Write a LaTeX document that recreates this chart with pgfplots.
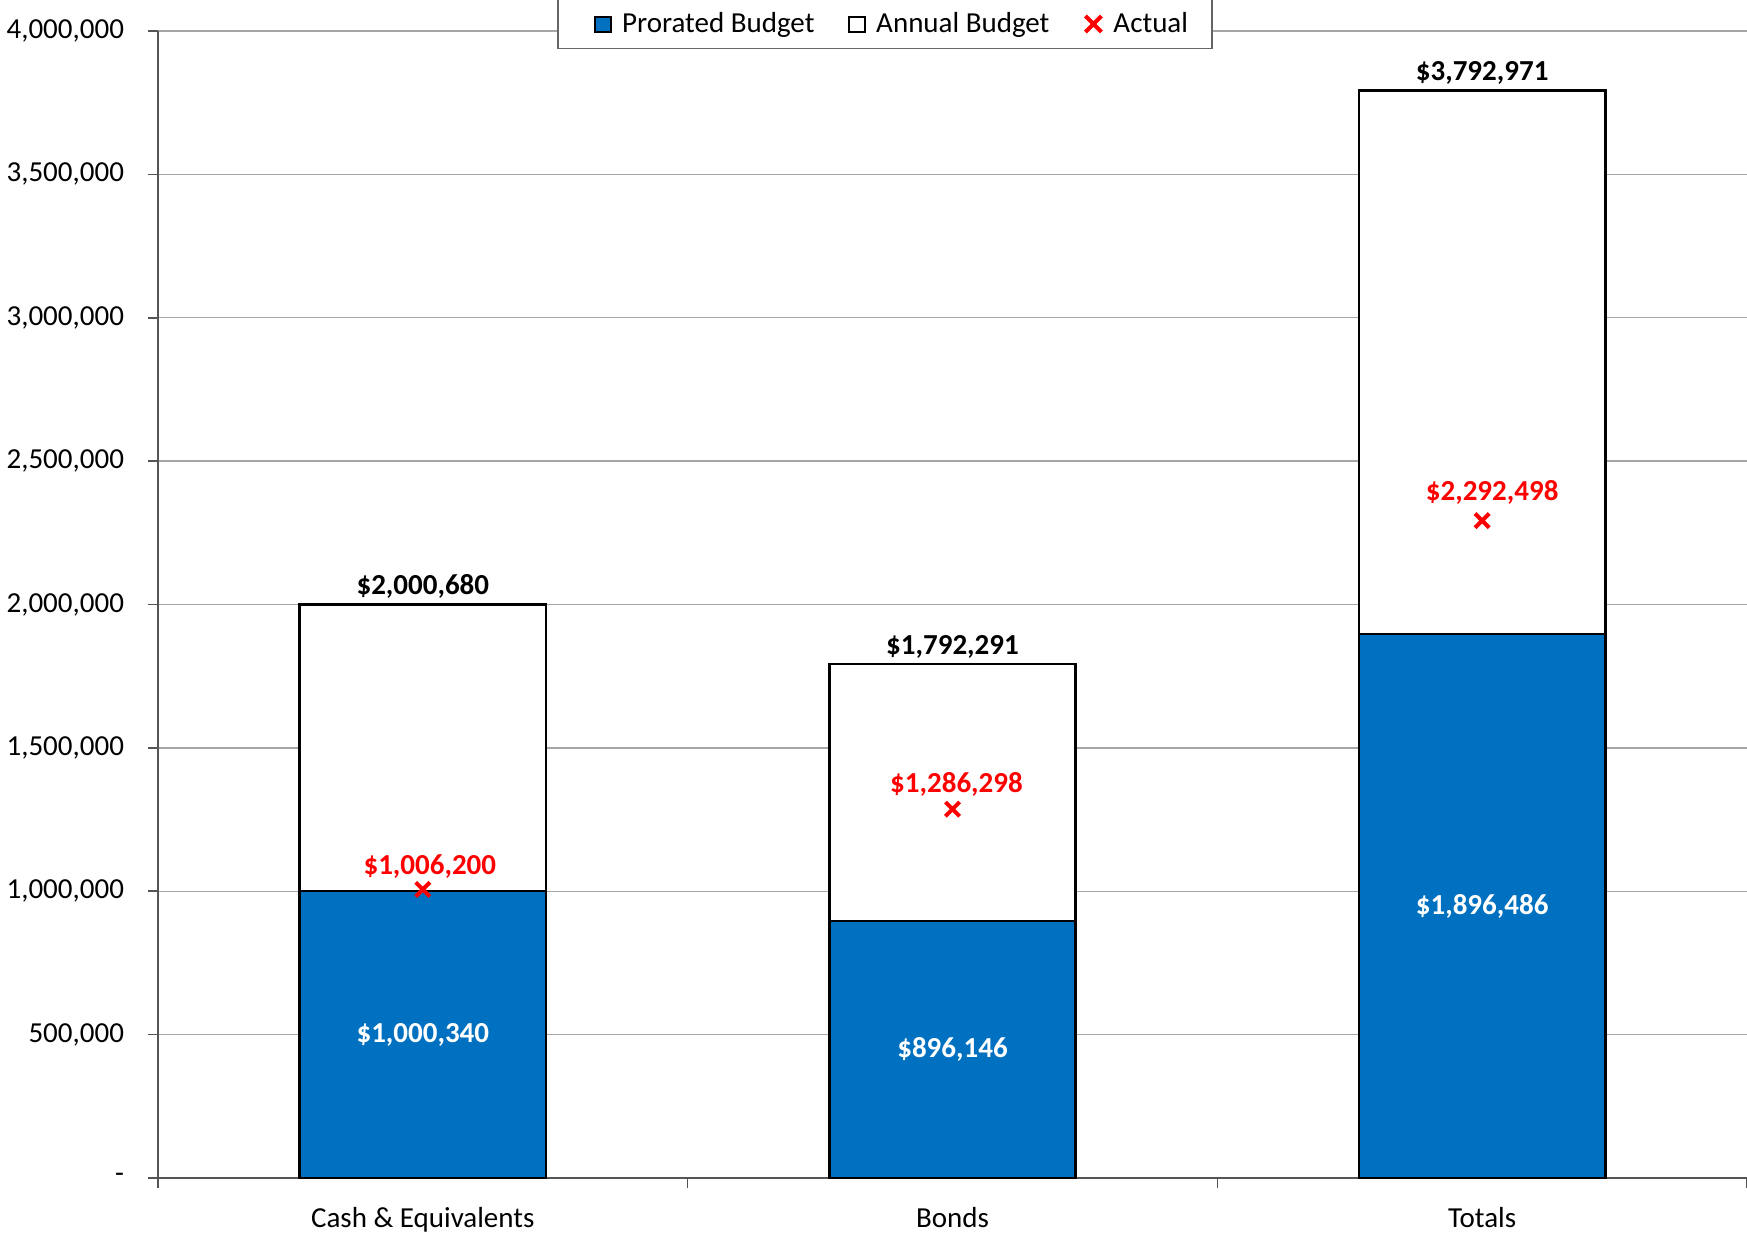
\documentclass[border=0pt]{standalone}
\usepackage{pgfplots}
\pgfplotsset{compat=1.18}
\usepackage{fontspec}
\setmainfont{Carlito}
\definecolor{pbar}{HTML}{0070C0}
\definecolor{axgray}{HTML}{555555}
\definecolor{gridgray}{HTML}{A6A6A6}
\begin{document}
\begin{tikzpicture}
\begin{axis}[
  scale only axis,
  width=794.5pt, height=573.5pt,
  xmin=-0.5, xmax=2.5,
  ymin=0, ymax=4000000,
  axis x line*=bottom, axis y line*=left,
  axis line style={axgray, line width=1pt},
  ytick={0,500000,1000000,1500000,2000000,2500000,3000000,3500000,4000000},
  yticklabels={-,{500,000},{1,000,000},{1,500,000},{2,000,000},{2,500,000},{3,000,000},{3,500,000},{4,000,000}},
  xtick={0,1,2},
  xticklabels={Cash \& Equivalents,Bonds,Totals},
  minor xtick={-0.5,0.5,1.5,2.5},
  tick align=outside,
  major tick length=5pt,
  minor tick length=5pt,
  x tick style={draw=none},
  minor x tick style={draw=axgray, line width=0.8pt},
  y tick style={axgray, line width=0.8pt},
  ymajorgrids,
  major grid style={gridgray, line width=0.7pt},
  tick label style={font=\fontsize{14.5}{16}\selectfont},
  /pgf/number format/assume math mode=true,
  xticklabel style={yshift=-6pt},
  yticklabel style={xshift=-8.5pt},
  scaled y ticks=false,
  legend columns=-1,
  legend style={at={(0.4575,1)}, anchor=center, yshift=3.5pt,
    draw=black!60, line width=0.6pt, fill=white,
    font=\fontsize{14.5}{16}\selectfont,
    inner xsep=10pt, inner ysep=4.5pt,
    /tikz/every odd column/.append style={column sep=3pt},
    /tikz/every even column/.append style={column sep=15pt}},
  legend cell align=left,
  clip=false,
]
\addplot[ybar, bar width=0.465, bar shift=0pt, fill=white, draw=black, line width=1.3pt, forget plot]
  coordinates {(0,2000680) (1,1792291) (2,3792971)};
\addplot[ybar, bar width=0.465, bar shift=0pt, fill=pbar, draw=black, line width=1.3pt,
  legend image code/.code={\path (-8pt,0pt); \draw[fill=pbar,draw=black,line width=0.9pt] (0pt,-4pt) rectangle (8pt,3.5pt);}]
  coordinates {(0,1000340) (1,896146) (2,1896486)};
\addlegendentry{Prorated Budget}
\addlegendimage{legend image code/.code={\draw[fill=white,draw=black,line width=0.9pt] (0pt,-4pt) rectangle (8pt,3.5pt);}}
\addlegendentry{Annual Budget}
\addplot[only marks, mark=x, mark size=5pt, red, line width=2pt,
  legend image code/.code={\draw[red,line width=2pt] (0pt,-4pt) -- (8pt,4pt) (0pt,4pt) -- (8pt,-4pt);}]
  coordinates {(0,1006200) (1,1286298) (2,2292498)};
\addlegendentry{Actual}
% labels
\tikzset{lbl/.style={font=\bfseries\fontsize{14.5}{16}\selectfont, inner sep=0pt}}
\node[lbl, anchor=base] at (axis cs:0,2000680) [yshift=5pt] {\$2,000,680};
\node[lbl, anchor=base] at (axis cs:1,1792291) [yshift=5pt] {\$1,792,291};
\node[lbl, anchor=base] at (axis cs:2,3792971) [yshift=5pt] {\$3,792,971};
\node[lbl, text=white] at (axis cs:0,500170) {\$1,000,340};
\node[lbl, text=white] at (axis cs:1,448073) {\$896,146};
\node[lbl, text=white] at (axis cs:2,948243) {\$1,896,486};
\node[lbl, text=red] at (axis cs:0,1006200) [xshift=3.5pt, yshift=11.5pt] {\$1,006,200};
\node[lbl, text=red] at (axis cs:1,1286298) [xshift=2pt, yshift=12.5pt] {\$1,286,298};
\node[lbl, text=red] at (axis cs:2,2292498) [xshift=5pt, yshift=14pt] {\$2,292,498};
\coordinate (bbsw) at (rel axis cs:0,0);
\coordinate (bbne) at (rel axis cs:1,1);
\end{axis}
\pgfresetboundingbox
\useasboundingbox ([xshift=-79pt,yshift=-29pt]bbsw) rectangle ([yshift=15.5pt]bbne);
\end{tikzpicture}
\end{document}
